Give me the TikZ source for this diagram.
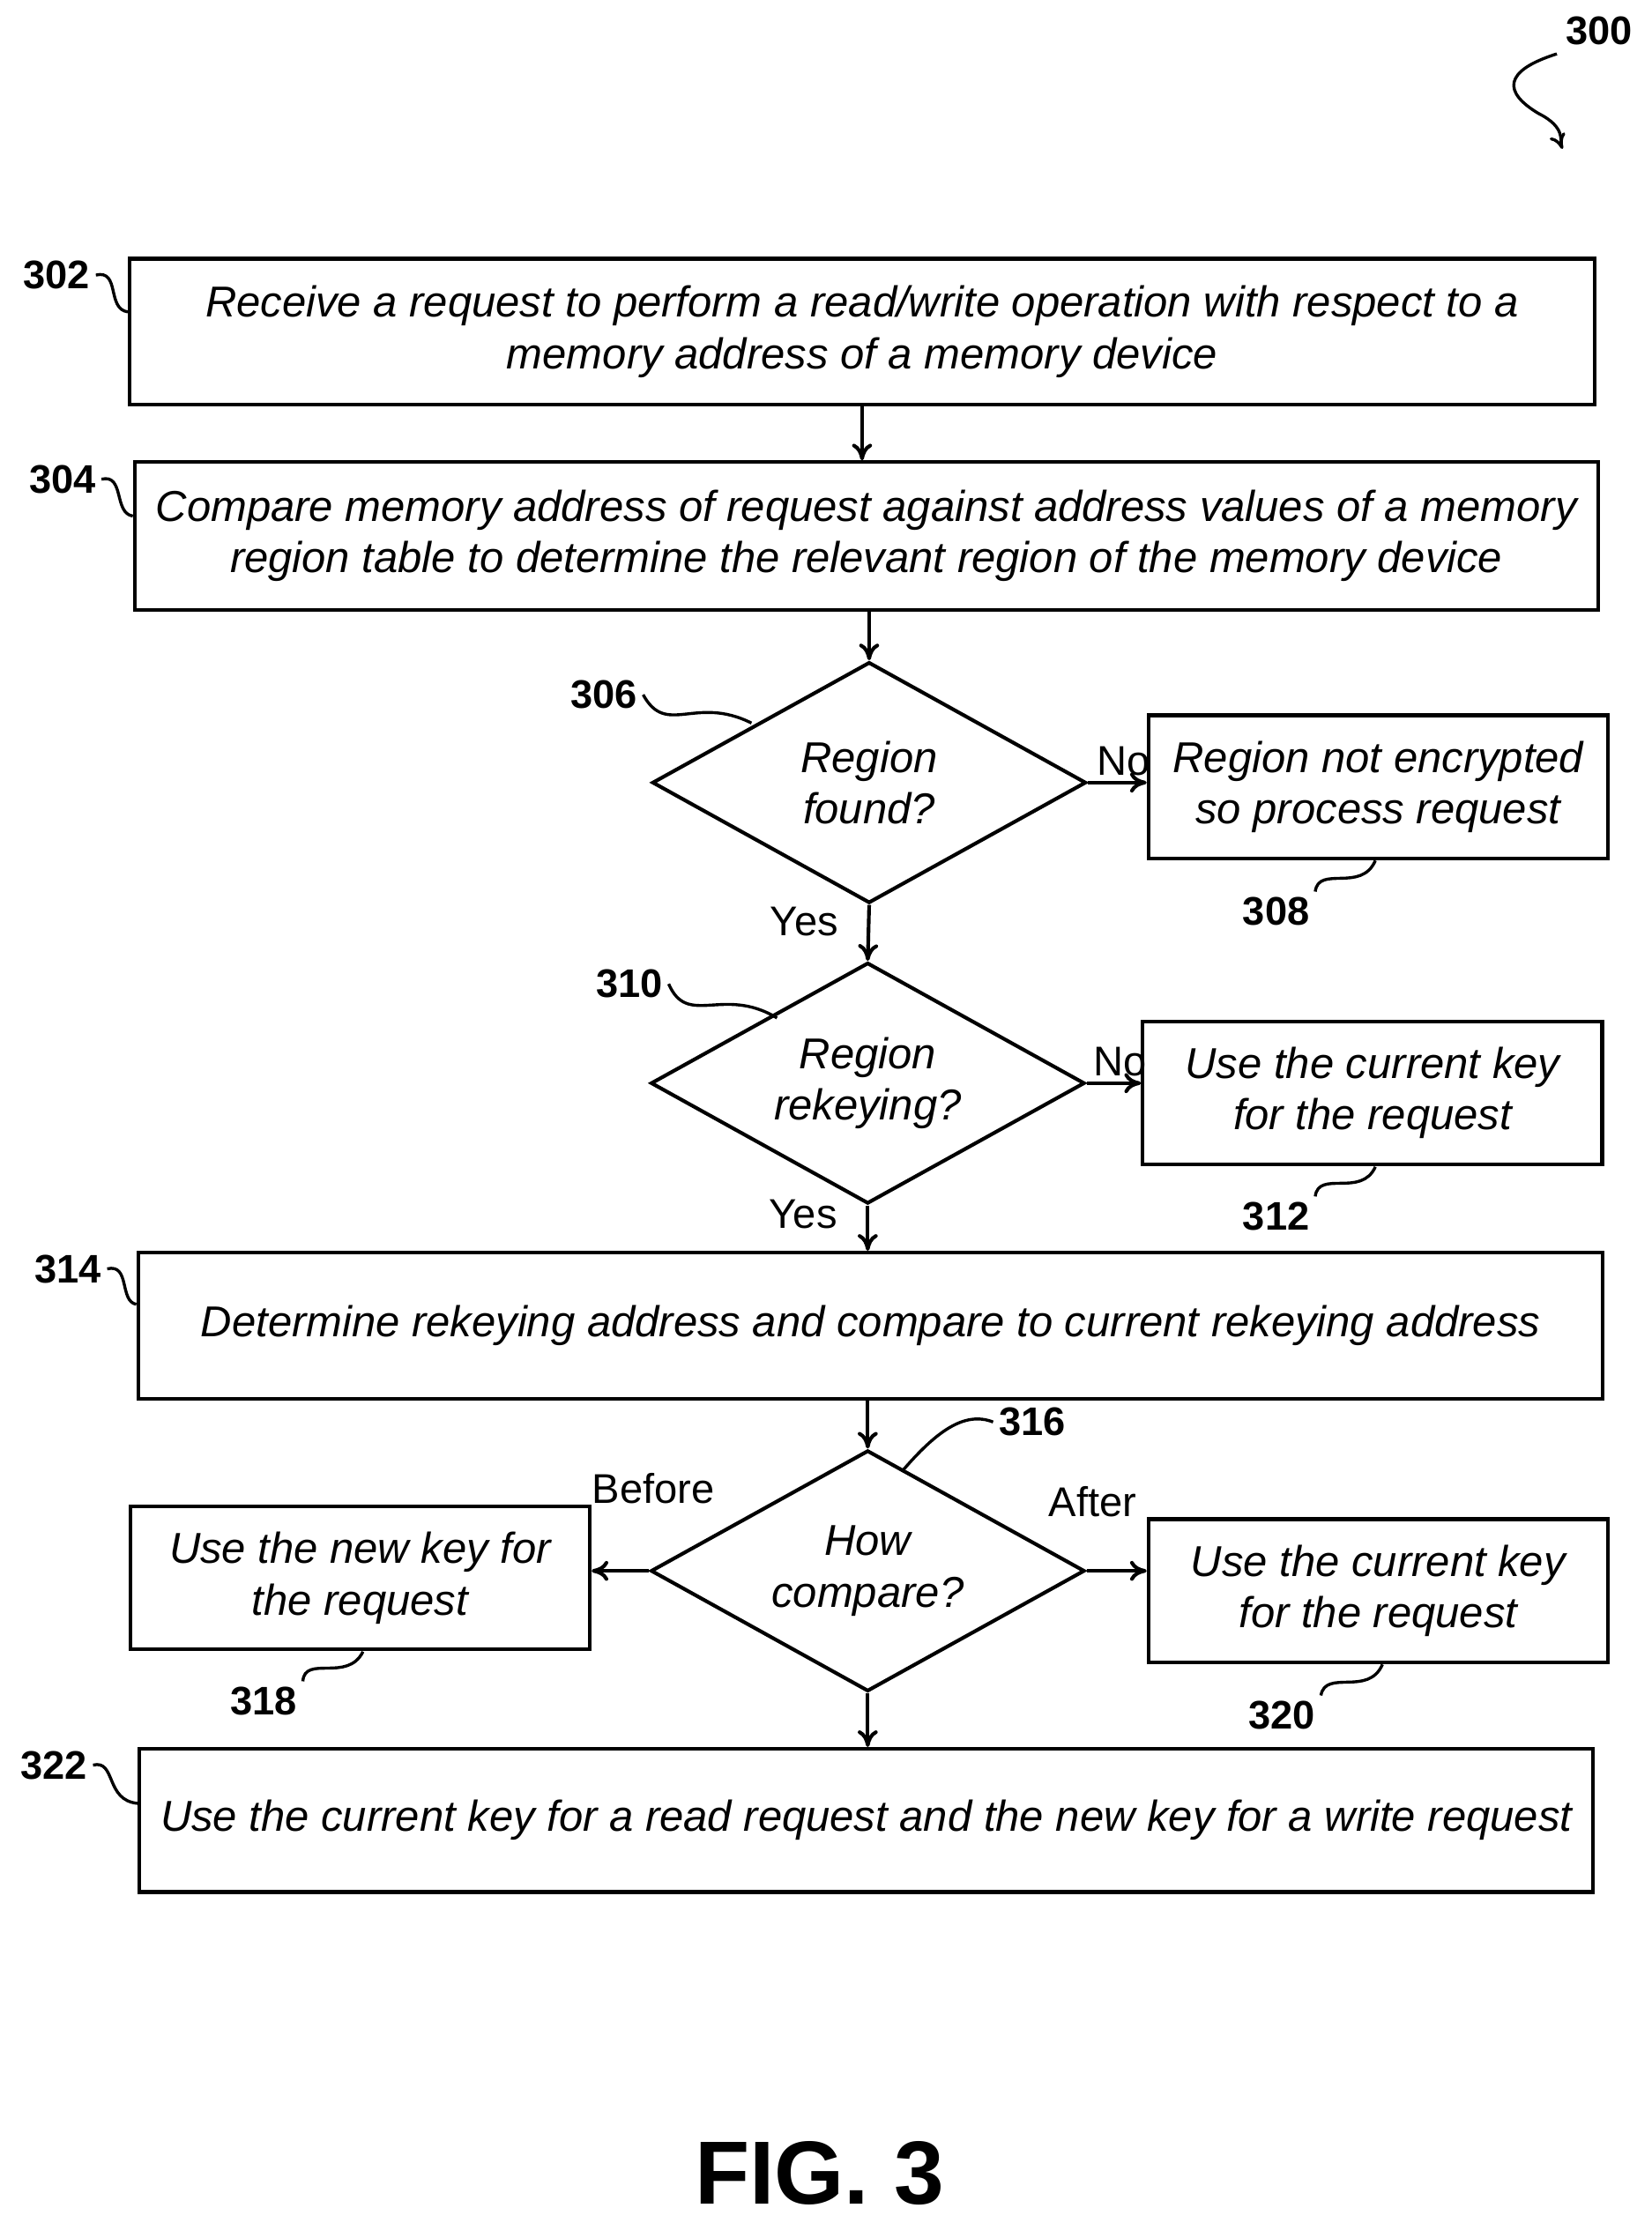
\documentclass[tikz,border=0pt]{standalone}
\usepackage{fontspec}
\setmainfont{Liberation Sans}
\usetikzlibrary{positioning,shapes.geometric,arrows.meta}
\tikzset{
  box/.style={draw,line width=2.2pt,align=center,font=\fontsize{26}{31}\selectfont\itshape},
  dec/.style={draw,diamond,line width=2.2pt,aspect=1.8,minimum width=9.18cm,minimum height=5.1cm,inner sep=0pt,align=center,font=\fontsize{26}{31}\selectfont\itshape},
  num/.style={font=\fontsize{24}{28}\selectfont\bfseries},
  lbl/.style={font=\fontsize{25}{28}\selectfont},
  arr/.style={-{To[length=10pt,width=12pt]},line width=2.2pt},
  squig/.style={line width=1.8pt}
}
\begin{document}
\begin{tikzpicture}[x=0.03cm,y=-0.03cm]
\useasboundingbox (0,0) rectangle (1165,1568);
% boxes
\node[box,minimum width=30.99cm,minimum height=3.09cm] (b302) at (608,234) {Receive a request to perform a read/write operation with respect to a\\memory address of a memory device};
\node[box,minimum width=30.96cm,minimum height=3.12cm] (b304) at (611,378) {Compare memory address of request against address values of a memory\\region table to determine the relevant region of the memory device};
\node[dec] (d306) at (613,552) {Region\\found?};
\node[box,minimum width=9.72cm,minimum height=3.03cm] (b308) at (972,555) {Region not encrypted\\so process request};
\node[dec] (d310) at (612,764) {Region\\rekeying?};
\node[box,minimum width=9.72cm,minimum height=3.03cm] (b312) at (968,771) {Use the current key\\for the request};
\node[box,minimum width=30.99cm,minimum height=3.09cm] (b314) at (614,935) {Determine rekeying address and compare to current rekeying address};
\node[dec] (d316) at (612,1108) {How\\compare?};
\node[box,minimum width=9.72cm,minimum height=3.03cm] (b318) at (254,1113) {Use the new key for\\the request};
\node[box,minimum width=9.72cm,minimum height=3.03cm] (b320) at (972,1122) {Use the current key\\for the request};
\node[box,minimum width=30.75cm,minimum height=3.03cm] (b322) at (611,1284) {Use the current key for a read request and the new key for a write request};
% connectors
\draw[arr] (b302.south) -- (b302.south|-b304.north);
\draw[arr] (d306.north|-b304.south) -- (d306.north);
\draw[arr] (d306.east) -- node[lbl,above,xshift=4pt]{No} (b308.west|-d306.east);
\draw[arr] (d306.south) -- node[lbl,left,pos=0.3,xshift=-14pt]{Yes} (d310.north);
\draw[arr] (d310.east) -- node[lbl,above,xshift=4pt]{No} (b312.west|-d310.east);
\draw[arr] (d310.south) -- node[lbl,left,pos=0.2,xshift=-14pt]{Yes} (d310.south|-b314.north);
\draw[arr] (d316.north|-b314.south) -- (d316.north);
\draw[arr] (d316.west) -- node[lbl,above,pos=0.1,yshift=36pt,xshift=6pt]{Before} (b318.east|-d316.west);
\draw[arr] (d316.east) -- node[lbl,above,pos=0.1,yshift=28pt]{After} (b320.west|-d316.east);
\draw[arr] (d316.south) -- (d316.south|-b322.north);
% reference numerals
\node[num] (n300) at (1128,22) {300};
\coordinate (e300) at (1102,105);
\draw[squig,-{To[length=9pt,width=10pt]}] (1098,38) .. controls (1060,50) and (1060,65) .. (1085,80) .. controls (1105,90) and (1100,100) .. (e300);
\node[num] (n302) at (40,194) {302};
\draw[squig] (n302.east) .. controls (85,190) and (75,218) .. (b302.west|-0,220);
\node[num] (n304) at (44,338) {304};
\draw[squig] (n304.east) .. controls (88,334) and (80,362) .. (b304.west|-0,364);
\node[num] (n306) at (426,490) {306};
\draw[squig] (n306.east) .. controls (470,520) and (490,490) .. (530,510);
\node[num] (n308) at (900,643) {308};
\draw[squig] (n308.north east) .. controls (930,610) and (960,630) .. (970,607);
\node[num] (n310) at (444,694) {310};
\draw[squig] (n310.east) .. controls (485,725) and (510,695) .. (548,718);
\node[num] (n312) at (900,858) {312};
\draw[squig] (n312.north east) .. controls (930,825) and (960,845) .. (970,823);
\node[num] (n314) at (48,895) {314};
\draw[squig] (n314.east) .. controls (92,891) and (84,918) .. (b314.west|-0,920);
\node[num] (n316) at (728,1003) {316};
\draw[squig] (n316.west) .. controls (680,995) and (660,1010) .. (636,1038);
\node[num] (n318) at (186,1200) {318};
\draw[squig] (n318.north east) .. controls (215,1167) and (245,1187) .. (256,1165);
\node[num] (n320) at (904,1210) {320};
\draw[squig] (n320.north east) .. controls (935,1177) and (965,1197) .. (975,1174);
\node[num] (n322) at (38,1245) {322};
\draw[squig] (n322.east) .. controls (82,1241) and (74,1270) .. (b322.west|-0,1272);
\node[font=\fontsize{54}{60}\selectfont\bfseries] (fig) at (578,1533) {FIG. 3};
\end{tikzpicture}
\end{document}
